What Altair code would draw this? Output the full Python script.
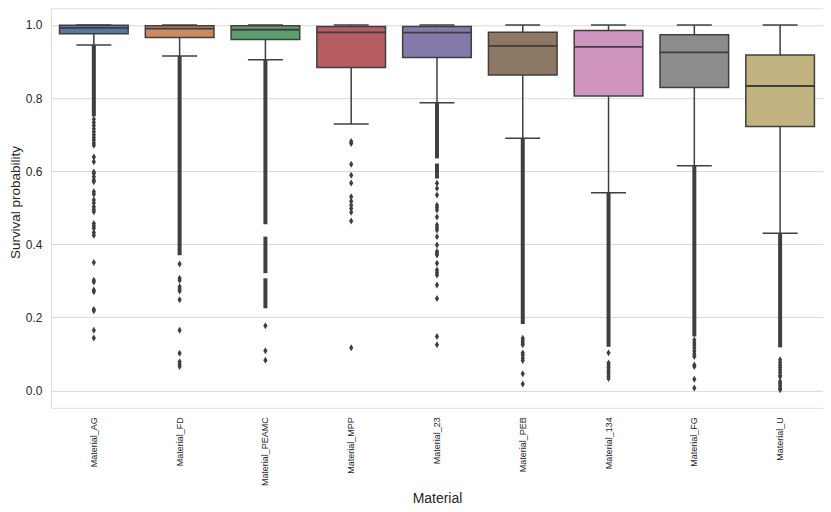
import altair as alt
import pandas as pd

materials = ["Material_AG", "Material_FD", "Material_PEAMC", "Material_MPP", "Material_23",
             "Material_PEB", "Material_134", "Material_FG", "Material_U"]
q1 = [0.976, 0.966, 0.960, 0.884, 0.911, 0.863, 0.806, 0.829, 0.722]
median = [0.992, 0.990, 0.987, 0.980, 0.979, 0.943, 0.940, 0.925, 0.833]
q3 = [0.999, 0.998, 0.998, 0.996, 0.996, 0.980, 0.985, 0.973, 0.918]
whisker_low = [0.945, 0.915, 0.905, 0.729, 0.787, 0.690, 0.541, 0.615, 0.430]
whisker_high = [1.0, 1.0, 1.0, 1.0, 1.0, 1.0, 1.0, 1.0, 1.0]

# stretches where the outlier diamonds merge into a solid column
dense_material = ["Material_AG", "Material_FD", "Material_PEAMC", "Material_PEAMC", "Material_PEAMC",
                  "Material_23", "Material_23", "Material_PEB", "Material_134", "Material_FG", "Material_U"]
dense_high = [0.945, 0.915, 0.905, 0.421, 0.307, 0.787, 0.621, 0.690, 0.541, 0.615, 0.430]
dense_low = [0.750, 0.370, 0.455, 0.321, 0.225, 0.635, 0.580, 0.182, 0.120, 0.148, 0.118]

# separate outliers
out_ag = [0.742, 0.733, 0.725, 0.716, 0.708, 0.700, 0.692, 0.685, 0.677, 0.671,
          0.639, 0.626, 0.598, 0.594, 0.585, 0.576, 0.571, 0.544, 0.537, 0.521, 0.513, 0.503,
          0.495, 0.489, 0.457, 0.450, 0.444, 0.432, 0.425, 0.350, 0.302, 0.297, 0.275, 0.270,
          0.222, 0.218, 0.165, 0.144]
out_fd = [0.346, 0.307, 0.302, 0.284, 0.278, 0.272, 0.248, 0.165, 0.102, 0.079, 0.072, 0.066]
out_peamc = [0.177, 0.109, 0.083]
out_mpp = [0.681, 0.676, 0.619, 0.589, 0.568, 0.530, 0.518, 0.507, 0.498, 0.488, 0.464, 0.117]
out_23 = [0.567, 0.553, 0.535, 0.507, 0.501, 0.494, 0.475, 0.453, 0.446, 0.439, 0.421, 0.398,
          0.380, 0.375, 0.371, 0.348, 0.330, 0.323, 0.316, 0.289, 0.252, 0.148, 0.125]
out_peb = [0.143, 0.137, 0.131, 0.125, 0.103, 0.097, 0.089, 0.082, 0.046, 0.018]
out_134 = [0.103, 0.075, 0.069, 0.063, 0.057, 0.051, 0.045, 0.039, 0.033]
out_fg = [0.138, 0.131, 0.124, 0.116, 0.108, 0.100, 0.093, 0.070, 0.066, 0.031, 0.007]
out_u = [0.084, 0.077, 0.070, 0.063, 0.056, 0.049, 0.042, 0.038, 0.025, 0.019, 0.013, 0.007, 0.002]

y_ticks = [0.0, 0.2, 0.4, 0.6, 0.8, 1.0]

box_colors = ["#5875a4", "#cc8963", "#5f9e6e", "#b55d60", "#857aab",
              "#8d7866", "#d095bf", "#8c8c8c", "#c1b37f"]
dark = "#3f3f3f"

box_df = pd.DataFrame({"material": materials, "q1": q1, "median": median, "q3": q3,
                       "wlo": whisker_low, "whi": whisker_high})
dense_df = pd.DataFrame({"material": dense_material, "high": dense_high, "low": dense_low})
rows = []
for m, vals in zip(materials, [out_ag, out_fd, out_peamc, out_mpp, out_23, out_peb, out_134, out_fg, out_u]):
    for v in vals:
        rows.append({"material": m, "value": v})
out_df = pd.DataFrame(rows)

x_enc = alt.X("material:N", sort=materials,
              scale=alt.Scale(domain=materials, paddingInner=0, paddingOuter=0),
              axis=alt.Axis(labelAngle=270, ticks=False, domain=False, grid=False,
                            labelFontSize=9, labelPadding=9, labelColor="#262626",
                            title="Material", titleFontSize=14, titleFontWeight="normal",
                            titleColor="#262626", titlePadding=6))
y_scale = alt.Scale(domain=[-0.0473, 1.0456], nice=False, zero=False)
y_axis = alt.Axis(values=y_ticks, format=".1f", grid=True, gridColor="#d9d9d9", gridWidth=1,
                  ticks=False, domain=False, labelFontSize=12, labelPadding=9,
                  labelColor="#262626", title="Survival probability", titleFontSize=13.5,
                  titleFontWeight="normal", titleColor="#262626", titlePadding=3, titleY=194)

dense = alt.Chart(dense_df).mark_rule(color=dark, strokeWidth=4).encode(
    x=x_enc, y=alt.Y("high:Q", scale=y_scale, axis=y_axis), y2="low:Q")

pts = alt.Chart(out_df).mark_point(shape="M0,-1L0.6,0L0,1L-0.6,0Z", filled=True, size=49,
                                   color=dark, opacity=1).encode(
    x=x_enc, y=alt.Y("value:Q", scale=y_scale, axis=y_axis))

whisk_up = alt.Chart(box_df).mark_rule(color=dark, strokeWidth=1.5).encode(
    x=x_enc, y=alt.Y("q3:Q", scale=y_scale, axis=y_axis), y2="whi:Q")
whisk_lo = alt.Chart(box_df).mark_rule(color=dark, strokeWidth=1.5).encode(
    x=x_enc, y=alt.Y("wlo:Q", scale=y_scale, axis=y_axis), y2="q1:Q")

box = alt.Chart(box_df).mark_bar(width=alt.RelativeBandSize(0.8), stroke=dark,
                                 strokeWidth=1.5, opacity=1).encode(
    x=x_enc, y=alt.Y("q1:Q", scale=y_scale, axis=y_axis), y2="q3:Q",
    color=alt.Color("material:N", scale=alt.Scale(domain=materials, range=box_colors), legend=None))

cap_lo = alt.Chart(box_df).mark_tick(color=dark, size=35, thickness=1.5, opacity=1).encode(
    x=x_enc, y=alt.Y("wlo:Q", scale=y_scale, axis=y_axis))
cap_hi = alt.Chart(box_df).mark_tick(color=dark, size=35, thickness=1.5, opacity=1).encode(
    x=x_enc, y=alt.Y("whi:Q", scale=y_scale, axis=y_axis))
med = alt.Chart(box_df).mark_tick(color=dark, size=69, thickness=1.8, opacity=1).encode(
    x=x_enc, y=alt.Y("median:Q", scale=y_scale, axis=y_axis))

chart = alt.layer(dense, pts, whisk_up, whisk_lo, box, cap_lo, cap_hi, med).properties(
    width=773, height=400,
    autosize=alt.AutoSizeParams(type="none"),
    padding={"left": 43, "top": 0, "right": 0, "bottom": 100},
).configure_view(stroke="#cccccc", strokeWidth=1).configure(
    font="Liberation Sans", background="white")

chart.save("out.html", embed_options={"renderer": "svg", "actions": False})
